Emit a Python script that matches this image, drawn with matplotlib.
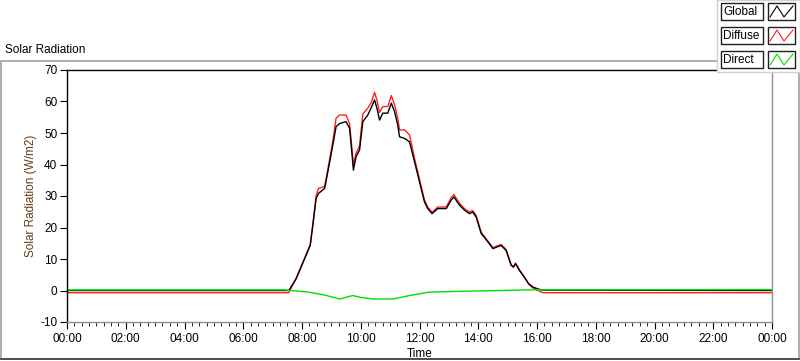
import matplotlib
matplotlib.use("Agg")
import matplotlib.pyplot as plt
from matplotlib.patches import Rectangle
from matplotlib.ticker import MultipleLocator, FuncFormatter

plt.rcParams['font.family'] = ['Liberation Sans', 'DejaVu Sans']
plt.rcParams['axes.unicode_minus'] = False

# ---- data (hours of day) ----
times = [0, 7.55, 7.80, 8.09, 8.28, 8.37, 8.48, 8.56, 8.77, 8.88, 9.05, 9.16, 9.28, 9.50,
         9.62, 9.71, 9.75, 9.84, 9.96, 10.07, 10.24, 10.35, 10.47, 10.55, 10.64, 10.75,
         10.92, 11.04, 11.15, 11.26, 11.32, 11.49, 11.66, 11.83, 12.0, 12.17, 12.28, 12.43,
         12.62, 12.91, 13.08, 13.17, 13.36, 13.53, 13.70, 13.81, 13.93, 14.10, 14.33, 14.50,
         14.63, 14.78, 14.95, 15.12, 15.20, 15.27, 15.40, 15.57, 15.72, 15.86, 16.03, 16.20, 24]
global_rad = [0, 0, 3.7, 10.1, 14.3, 20.7, 29.2, 30.8, 32.4, 37.7, 46.2, 52.0, 53.0, 53.6,
              51.5, 42.5, 38.2, 42.5, 44.6, 53.6, 55.7, 57.9, 60.5, 57.9, 54.1, 56.3,
              56.3, 59.5, 56.8, 52.5, 48.8, 48.3, 47.2, 40.9, 34.5, 28.1, 26.0, 24.4,
              26.0, 26.0, 28.7, 29.7, 27.1, 25.5, 24.4, 24.9, 23.3, 18.1, 15.4, 13.3,
              13.8, 14.3, 12.7, 8.0, 7.4, 8.5, 6.4, 4.2, 2.1, 1.1, 0.5, 0.1, 0.0]
diffuse_rad = [-0.7, -0.7, 3.9, 10.3, 14.6, 21.2, 30.0, 32.4, 33.0, 38.5, 47.5, 54.7, 55.7, 55.7,
               53.0, 44.0, 40.0, 43.5, 46.0, 56.0, 57.9, 59.5, 62.9, 60.5, 56.5, 58.4,
               58.4, 61.9, 59.0, 54.7, 51.0, 51.0, 49.4, 42.0, 35.3, 28.7, 26.5, 24.8,
               26.5, 26.5, 29.5, 30.5, 27.7, 26.0, 24.9, 25.4, 23.8, 18.5, 15.7, 13.6,
               14.1, 14.6, 13.0, 8.2, 7.6, 8.7, 6.6, 4.3, 2.0, 0.8, 0.0, -0.7, -0.7]
direct_times = [0, 7.4, 8.2, 8.8, 9.28, 9.73, 10.0, 10.41, 11.09, 11.66, 12.34, 13.67, 14.8, 15.7, 24]
direct_rad = [0.2, 0.2, -0.5, -1.5, -2.7, -1.6, -2.2, -2.7, -2.7, -1.6, -0.5, -0.2, 0.0, 0.2, 0.3]

series_names = ["Global", "Diffuse", "Direct"]
series_colors = ["#000000", "#ff2020", "#00e000"]

W, H = 800, 361
fig = plt.figure(figsize=(W / 100, H / 100), dpi=100)
fig.patch.set_facecolor("white")

def fx(px):
    return px / W

def fy(py):
    return 1 - py / H

# outer frame
bg = fig.add_axes([0, 0, 1, 1], zorder=0)
bg.set_xlim(0, W)
bg.set_ylim(H, 0)
bg.axis("off")
bg.add_patch(Rectangle((1, 61), W - 2, 298, fill=False, edgecolor="#a0a0a0", lw=1.2))
bg.plot([1, W - 1], [359, 359], color="#404040", lw=1.2)
bg.text(5, 50, "Solar Radiation", fontsize=8.5, va="center", ha="left", color="#000000")

# main axes
x0, x1, y0, y1 = 67, 772, 70, 322
ax = fig.add_axes([fx(x0), fy(y1), (x1 - x0) / W, (y1 - y0) / H], zorder=1)
ax.set_facecolor("white")
ax.plot(times, diffuse_rad, color=series_colors[1], lw=1.0)
ax.plot(times, global_rad, color=series_colors[0], lw=1.0)
ax.plot(direct_times, direct_rad, color=series_colors[2], lw=1.0)
ax.set_xlim(0, 24)
ax.set_ylim(-10, 70)
ax.xaxis.set_major_locator(MultipleLocator(2))
ax.xaxis.set_minor_locator(MultipleLocator(0.25))
ax.yaxis.set_major_locator(MultipleLocator(10))
ax.xaxis.set_major_formatter(FuncFormatter(lambda v, p: "%02d:00" % (int(round(v)) % 24)))
ax.tick_params(axis="x", which="major", length=5, direction="out", labelsize=8.5, pad=3, colors="#000000")
ax.tick_params(axis="x", which="minor", length=3, direction="out")
ax.tick_params(axis="y", which="major", length=5, direction="out", labelsize=8.5, pad=2)
for s in ["left", "top"]:
    ax.spines[s].set_color("#000000")
for s in ["right", "bottom"]:
    ax.spines[s].set_color("#909090")
for s in ax.spines.values():
    s.set_linewidth(1.0)
ax.set_ylabel("Solar Radiation (W/m2)", fontsize=8.5, color="#6a3a10", va="center")
ax.yaxis.set_label_coords((31 - x0) / (x1 - x0), 0.5)
ax.set_xlabel("Time", fontsize=8.5, labelpad=2)

# legend panel
lg = fig.add_axes([0, 0, 1, 1], zorder=3)
lg.set_xlim(0, W)
lg.set_ylim(H, 0)
lg.axis("off")
lg.add_patch(Rectangle((717, 0), W - 717, 72, facecolor="white", edgecolor="#d0d0d0", lw=1.0))
for i, (name, col) in enumerate(zip(series_names, series_colors)):
    top = 3 + i * 24
    lg.add_patch(Rectangle((721, top), 42, 17, facecolor="white", edgecolor="#202020", lw=1.0))
    lg.text(723.5, top + 8.8, name, fontsize=8.5, va="center", ha="left")
    lg.add_patch(Rectangle((768, top), 27, 17, facecolor="white", edgecolor="#202020", lw=1.0))
    zx = [770, 777, 784, 793]
    zy = [top + 14, top + 3, top + 14, top + 3]
    lg.plot(zx, zy, color=col, lw=0.8)

fig.savefig("out.png", dpi=100)
